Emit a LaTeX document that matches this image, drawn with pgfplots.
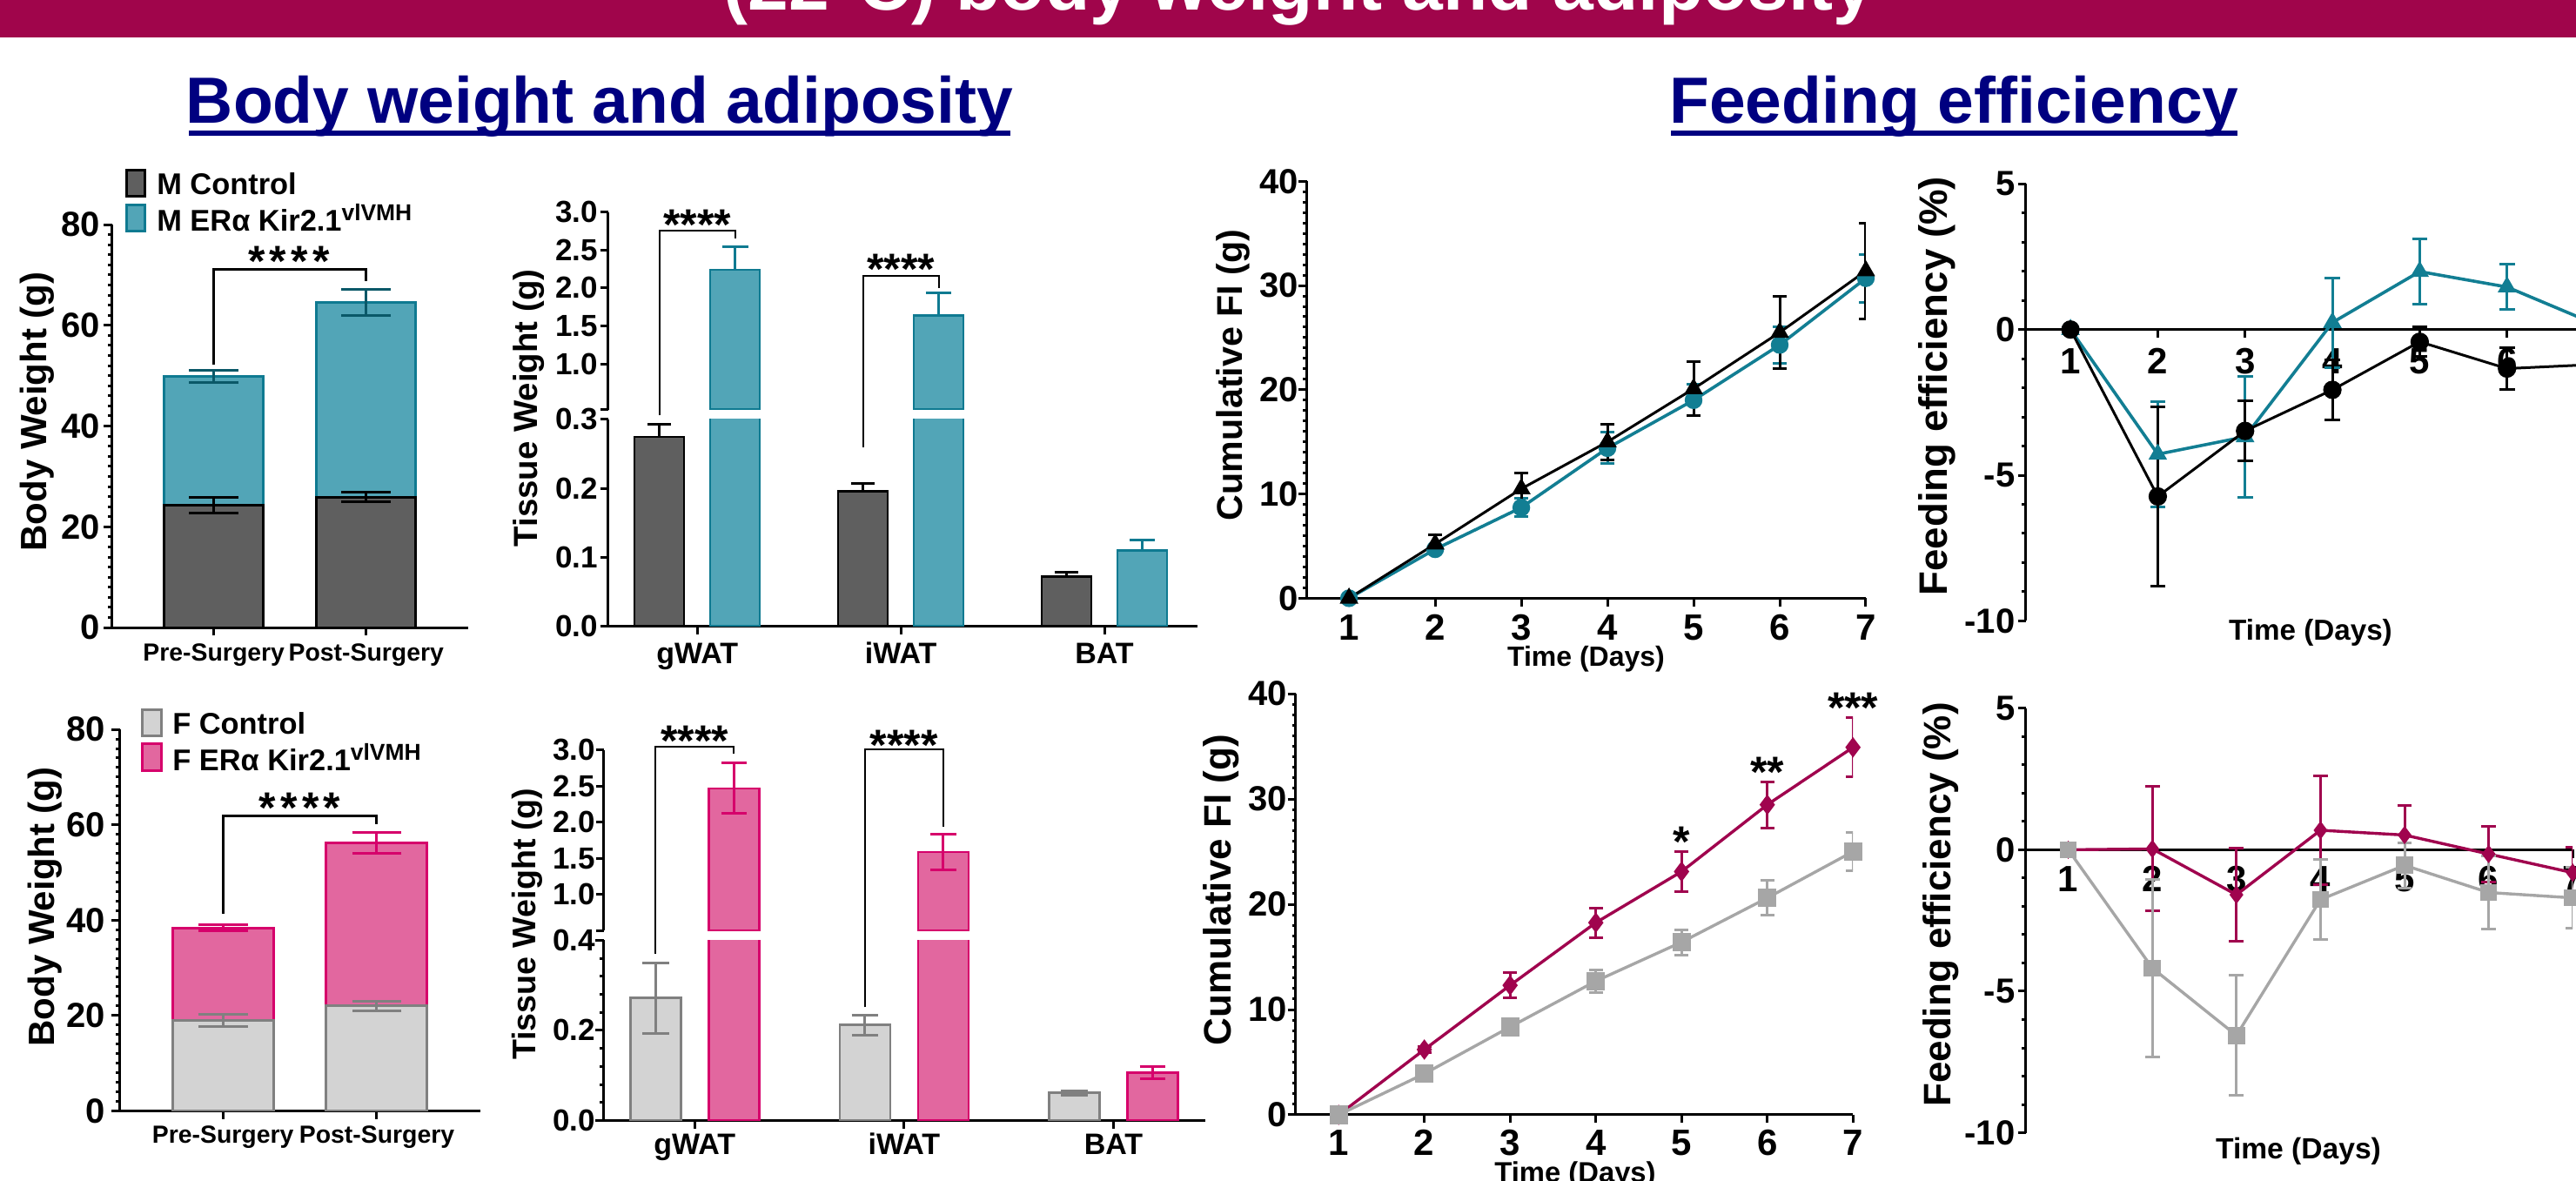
\documentclass[border=0pt]{standalone}
\usepackage{fontspec}
\setmainfont{Liberation Sans}
\usepackage{pgfplots}
\pgfplotsset{compat=1.18}
\newcommand\fs[1]{\fontsize{#1}{#1}\selectfont\bfseries}
\newcommand\sups[1]{\raisebox{3pt}{\fontsize{6.6}{6.6}\selectfont #1}}
\definecolor{banner}{RGB}{160,5,75}
\definecolor{navy}{RGB}{0,0,128}
\definecolor{ctrlM}{RGB}{95,95,95}
\definecolor{kirM}{RGB}{82,165,183}
\definecolor{kirMedge}{RGB}{15,122,145}
\definecolor{kirMerr}{RGB}{10,88,104}
\definecolor{tealL}{RGB}{18,126,147}
\definecolor{ctrlF}{RGB}{211,211,211}
\definecolor{ctrlFedge}{RGB}{128,128,128}
\definecolor{kirF}{RGB}{226,103,159}
\definecolor{kirFedge}{RGB}{214,0,107}
\definecolor{crim}{RGB}{160,4,78}
\definecolor{grayL}{RGB}{166,166,166}
\pgfplotsset{
  base/.style={
    scale only axis, anchor=south west,
    axis x line*=bottom, axis y line*=left,
    axis line style={-, line width=0.75pt, black},
    tick style={black, line width=0.75pt},
    tick align=outside,
    major tick length=2.3pt, minor tick length=1.1pt,
    /pgf/number format/assume math mode=true,
    yticklabel style={anchor=east, inner sep=0pt},
    xticklabel style={anchor=base, inner sep=0pt},
    hide obscured x ticks=false, hide obscured y ticks=false,
  },
  ebar/.style n args={3}{error bars/.cd, y dir=#1, y explicit,
    error bar style={#2, line width=0.75pt},
    error mark options={rotate=90, mark size=#3, #2, line width=0.75pt}},
}
\begin{document}
\begin{tikzpicture}
\useasboundingbox (0,0) rectangle (740pt,-339.25pt);
\clip (0,0) rectangle (740pt,-339.25pt);
\begin{scope}[x=0.25pt,y=-0.25pt]
  \fill[banner] (0,-20) rectangle (2960,42.7);
  \node[white, font=\fs{21}, anchor=base, inner sep=0pt] at (1492.5,12) {(22°C) body weight and adiposity};
  \node[navy, font=\fs{18.75}, anchor=base, inner sep=0pt] at (689,142) {Body weight and adiposity};
  \fill[navy] (217,150) rectangle (1161,156);
  \node[navy, font=\fs{18.75}, anchor=base, inner sep=0pt] at (2245.5,142) {Feeding efficiency};
  \fill[navy] (1920,150) rectangle (2571,156);
  % legends
  \filldraw[fill=ctrlM, draw=black, line width=0.75pt] (145.7,196) rectangle (166.8,225.5);
  \filldraw[fill=kirM, draw=kirMedge, line width=0.75pt] (145.7,235.8) rectangle (166.8,265.7);
  \node[anchor=base west, inner sep=0pt, font=\fs{8.6}] at (179.5,223.6) {M Control};
  \node[anchor=base west, inner sep=0pt, font=\fs{8.6}] at (179.5,265.7) {M ERα Kir2.1\sups{vlVMH}};
  \filldraw[fill=ctrlF, draw=ctrlFedge, line width=0.75pt] (163.6,815.3) rectangle (185,846);
  \filldraw[fill=kirF, draw=kirFedge, line width=0.75pt] (163.6,855) rectangle (185,885.8);
  \node[anchor=base west, inner sep=0pt, font=\fs{8.6}] at (197.5,843.5) {F Control};
  \node[anchor=base west, inner sep=0pt, font=\fs{8.6}] at (197.5,885.8) {F ERα Kir2.1\sups{vlVMH}};
  % anchors
  \coordinate (pA) at (128.6,721.1);
  \coordinate (pB) at (137.5,1276.4);
  \coordinate (pCl) at (698.8,719.7);
  \coordinate (pCu) at (698.8,470.6);
  \coordinate (pDl) at (693.7,1287.5);
  \coordinate (pDu) at (693.7,1069.4);
  \coordinate (pE) at (1501.6,687.4);
  \coordinate (pF) at (2327.7,713.4);
  \coordinate (pG) at (1488.9,1281);
  \coordinate (pH) at (2327.7,1301.6);
\end{scope}

% ---------- A: male body weight
\begin{axis}[base, at={(pA)}, width=102.23pt, height=115.78pt,
  xmin=-0.669, xmax=1.667, ymin=0, ymax=80,
  xtick={0,1}, xticklabels={Pre-Surgery,Post-Surgery},
  ytick={0,20,40,60,80}, yticklabels={0,20,40,60,80}, minor y tick num=9,
  xticklabel style={font=\fs{7.1}, yshift=-7.2pt},
  yticklabel style={font=\fs{10}, xshift=-0.85pt},
  ylabel={Body Weight (g)},
  ylabel style={at={(axis description cs:-0.2096,0.5357)}, anchor=center, font=\fs{10.5}}]
\addplot[ybar, bar width=28.5pt, bar shift=0pt, mark=none, fill=kirM, draw=kirMedge, line width=0.75pt,
  ebar={both}{kirMerr}{7.1pt}] coordinates {(0,49.9) +- (0,1.2) (1,64.6) +- (0,2.6)};
\addplot[ybar, bar width=28.5pt, bar shift=0pt, mark=none, fill=ctrlM, draw=black, line width=0.75pt,
  ebar={both}{black}{7.1pt}] coordinates {(0,24.3) +- (0,1.6) (1,25.9) +- (0,0.9)};
\coordinate (a1) at (axis cs:0,52.2);
\coordinate (a2) at (axis cs:1,71.1);
\coordinate (a3) at (axis cs:1,68.8);
\coordinate (sA) at (axis cs:0.493,74.7);
\end{axis}
\draw[line width=0.75pt] (a1) |- (a2) -- (a3);
\node[font=\fs{12.5}, anchor=base, inner sep=0pt, yshift=-7.25pt] at (sA) {*\kern1.3pt*\kern1.3pt*\kern1.3pt*};

% ---------- B: female body weight
\begin{axis}[base, at={(pB)}, width=103.58pt, height=109.58pt,
  xmin=-0.671, xmax=1.672, ymin=0, ymax=80,
  xtick={0,1}, xticklabels={Pre-Surgery,Post-Surgery},
  ytick={0,20,40,60,80}, yticklabels={0,20,40,60,80}, minor y tick num=9,
  xticklabel style={font=\fs{7.1}, yshift=-7.1pt},
  yticklabel style={font=\fs{10}, xshift=-1.7pt},
  ylabel={Body Weight (g)},
  ylabel style={at={(axis description cs:-0.2071,0.5348)}, anchor=center, font=\fs{10.5}}]
\addplot[ybar, bar width=29pt, bar shift=0pt, mark=none, fill=kirF, draw=kirFedge, line width=0.75pt,
  ebar={both}{kirFedge}{7.1pt}] coordinates {(0,38.4) +- (0,0.7) (1,56.2) +- (0,2.15)};
\addplot[ybar, bar width=29pt, bar shift=0pt, mark=none, fill=ctrlF, draw=ctrlFedge, line width=0.75pt,
  ebar={both}{ctrlFedge}{7.1pt}] coordinates {(0,18.9) +- (0,1.3) (1,22.0) +- (0,1.0)};
\coordinate (b1) at (axis cs:0,41.3);
\coordinate (b2) at (axis cs:1,61.9);
\coordinate (b3) at (axis cs:1,60.1);
\coordinate (sB) at (axis cs:0.5,65.7);
\end{axis}
\draw[line width=0.75pt] (b1) |- (b2) -- (b3);
\node[font=\fs{12.5}, anchor=base, inner sep=0pt, yshift=-7.25pt] at (sB) {*\kern1.3pt*\kern1.3pt*\kern1.3pt*};

% ---------- C: male tissue (broken axis)
\begin{axis}[base, at={(pCl)}, width=169.3pt, height=59.45pt,
  xmin=-0.438, xmax=2.457, ymin=0, ymax=0.3,
  xtick={0,1,2}, xticklabels={gWAT,iWAT,BAT},
  ytick={0,0.1,0.2,0.3}, yticklabels={0.0,0.1,0.2,0.3},
  xticklabel style={font=\fs{8.5}, yshift=-8.3pt},
  yticklabel style={font=\fs{8.75}, xshift=-0.5pt},
  ylabel={Tissue Weight (g)},
  ylabel style={at={(axis description cs:-0.1341,1.0542)}, anchor=center, font=\fs{9.6}}]
\addplot[ybar, bar width=14.25pt, bar shift=0pt, mark=none, fill=ctrlM, draw=black, line width=0.6pt,
  ebar={plus}{black}{3.4pt}] coordinates {(-0.186,0.275) +- (0,0.018) (0.814,0.196) +- (0,0.011) (1.814,0.072) +- (0,0.006)};
\addplot[ybar, bar width=14.25pt, bar shift=0pt, mark=none, fill=kirM, draw=kirMedge, line width=0.6pt]
  coordinates {(0.186,2.24) (1.186,1.64)};
\addplot[ybar, bar width=14.25pt, bar shift=0pt, mark=none, fill=kirM, draw=kirMedge, line width=0.6pt,
  ebar={plus}{kirMedge}{3.7pt}] coordinates {(2.186,0.110) +- (0,0.015)};
\coordinate (c1) at (axis cs:-0.186,0.3057);
\coordinate (c4) at (axis cs:0.814,0.259);
\end{axis}
\begin{axis}[base, at={(pCu)}, width=169.3pt, height=56.75pt,
  axis x line=none, xtick=\empty,
  xmin=-0.438, xmax=2.457, ymin=0.4, ymax=3.0,
  ytick={1,1.5,2,2.5,3}, yticklabels={1.0,1.5,2.0,2.5,3.0},
  extra y ticks={0.4}, extra y tick labels={},
  yticklabel style={font=\fs{8.75}, xshift=-0.5pt}]
\addplot[ybar, bar width=14.25pt, bar shift=0pt, mark=none, fill=kirM, draw=kirMedge, line width=0.6pt,
  ebar={plus}{kirMedge}{3.7pt}] coordinates {(0.186,2.24) +- (0,0.30) (1.186,1.64) +- (0,0.30)};
\coordinate (c2) at (axis cs:0.186,2.758);
\coordinate (c3) at (axis cs:0.186,2.652);
\coordinate (c5) at (axis cs:1.186,2.156);
\coordinate (c6) at (axis cs:1.186,2.0);
\coordinate (sC1) at (axis cs:0,2.97);
\coordinate (sC2) at (axis cs:1,2.377);
\end{axis}
\draw[line width=0.45pt] (c1) |- (c2) -- (c3);
\draw[line width=0.45pt] (c4) |- (c5) -- (c6);
\node[font=\fs{12.5}, anchor=base, inner sep=0pt, yshift=-7.25pt] at (sC1) {****};
\node[font=\fs{12.5}, anchor=base, inner sep=0pt, yshift=-7.25pt] at (sC2) {****};

% ---------- D: female tissue (broken axis)
\begin{axis}[base, at={(pDl)}, width=172.83pt, height=51.8pt,
  xmin=-0.435, xmax=2.439, ymin=0, ymax=0.4,
  xtick={0,1,2}, xticklabels={gWAT,iWAT,BAT},
  ytick={0,0.2,0.4}, yticklabels={0.0,0.2,0.4}, minor y tick num=4,
  xticklabel style={font=\fs{8.5}, yshift=-7.5pt},
  yticklabel style={font=\fs{8.75}, xshift=0pt},
  ylabel={Tissue Weight (g)},
  ylabel style={at={(axis description cs:-0.1269,1.0883)}, anchor=center, font=\fs{9.4}}]
\addplot[ybar, bar width=14.5pt, bar shift=0pt, mark=none, fill=ctrlF, draw=ctrlFedge, line width=0.6pt,
  ebar={both}{ctrlFedge}{3.8pt}] coordinates {(-0.187,0.272) +- (0,0.078) (0.813,0.212) +- (0,0.022) (1.813,0.0615) +- (0,0.005)};
\addplot[ybar, bar width=14.5pt, bar shift=0pt, mark=none, fill=kirF, draw=kirFedge, line width=0.6pt]
  coordinates {(0.187,2.47) (1.187,1.59)};
\addplot[ybar, bar width=14.5pt, bar shift=0pt, mark=none, fill=kirF, draw=kirFedge, line width=0.6pt,
  ebar={both}{kirFedge}{3.7pt}] coordinates {(2.187,0.106) +- (0,0.013)};
\coordinate (d1) at (axis cs:-0.187,0.370);
\coordinate (d4) at (axis cs:0.813,0.251);
\end{axis}
\begin{axis}[base, at={(pDu)}, width=172.83pt, height=51.9pt,
  axis x line=none, xtick=\empty,
  xmin=-0.435, xmax=2.439, ymin=0.5, ymax=3.0,
  ytick={1,1.5,2,2.5,3}, yticklabels={1.0,1.5,2.0,2.5,3.0},
  extra y ticks={0.5}, extra y tick labels={},
  yticklabel style={font=\fs{8.75}, xshift=0pt}]
\addplot[ybar, bar width=14.5pt, bar shift=0pt, mark=none, fill=kirF, draw=kirFedge, line width=0.6pt,
  ebar={both}{kirFedge}{3.7pt}] coordinates {(0.187,2.47) +- (0,0.35) (1.187,1.59) +- (0,0.25)};
\coordinate (d2) at (axis cs:0.187,3.049);
\coordinate (d3) at (axis cs:0.187,2.947);
\coordinate (d5) at (axis cs:1.187,3.008);
\coordinate (d6) at (axis cs:1.187,1.937);
\coordinate (sD1) at (axis cs:0,3.264);
\coordinate (sD2) at (axis cs:1,3.214);
\end{axis}
\draw[line width=0.45pt] (d1) |- (d2) -- (d3);
\draw[line width=0.45pt] (d4) |- (d5) -- (d6);
\node[font=\fs{12.5}, anchor=base, inner sep=0pt, yshift=-7.25pt] at (sD1) {****};
\node[font=\fs{12.5}, anchor=base, inner sep=0pt, yshift=-7.25pt] at (sD2) {****};

% ---------- E: male cumulative FI
\begin{axis}[base, at={(pE)}, width=160.6pt, height=119.78pt,
  xmin=0.51, xmax=7, ymin=0, ymax=40,
  xtick={1,...,7}, xticklabels={1,2,3,4,5,6,7},
  ytick={0,10,20,30,40}, yticklabels={0,10,20,30,40}, minor y tick num=9,
  xticklabel style={font=\fs{10.5}, yshift=-9.85pt},
  yticklabel style={font=\fs{10}, xshift=0pt},
  ylabel={Cumulative FI (g)},
  ylabel style={at={(axis description cs:-0.1317,0.5352)}, anchor=center, font=\fs{10.3}},
  xlabel={Time (Days)},
  xlabel style={at={(axis description cs:0.4995,-0.162)}, anchor=base, font=\fs{8}}]
\addplot[color=tealL, line width=0.9pt, mark=*, mark size=2.4pt, mark options={fill=tealL, draw=tealL, line width=0.3pt},
  ebar={both}{tealL}{1.9pt}] coordinates {(1,0) +- (0,0) (2,4.7) +- (0,0.3) (3,8.7) +- (0,0.9) (4,14.4) +- (0,1.5) (5,19.0) +- (0,1.5) (6,24.3) +- (0,1.75) (7,30.7) +- (0,2.3)};
\addplot[color=black, line width=0.75pt, mark=triangle*, mark size=2.8pt, mark options={fill=black, draw=black, line width=0.3pt},
  ebar={both}{black}{1.9pt}] coordinates {(1,0) +- (0,0) (2,5.2) +- (0,0.9) (3,10.5) +- (0,1.5) (4,15.0) +- (0,1.7) (5,20.1) +- (0,2.6) (6,25.5) +- (0,3.5) (7,31.4) +- (0,4.6)};
\end{axis}

% ---------- F: male feeding efficiency
\begin{axis}[base, at={(pF)}, width=163.33pt, height=125.53pt, axis x line*=middle,
  xmin=0.4875, xmax=7, ymin=-10, ymax=5,
  xtick={1,...,7}, xticklabels={1,2,3,4,5,6,7},
  ytick={-10,-5,0,5}, yticklabels={-10,-5,0,5}, minor y tick num=4,
  xticklabel style={font=\fs{10.5}, yshift=-10.5pt},
  yticklabel style={font=\fs{10}, xshift=-0.6pt},
  ylabel={Feeding efficiency (\%)},
  ylabel style={at={(axis description cs:-0.1557,0.5373)}, anchor=center, font=\fs{11.4}},
  xlabel={Time (Days)},
  xlabel style={at={(axis description cs:0.501,-0.0442)}, anchor=base, font=\fs{8.3}}]
\addplot[color=tealL, line width=0.9pt, mark=triangle*, mark size=2.8pt, mark options={fill=tealL, draw=tealL, line width=0.3pt},
  ebar={both}{tealL}{2.2pt}] coordinates {(1,0) +- (0,0) (2,-4.28) +- (0,1.8) (3,-3.68) +- (0,2.07) (4,0.24) +- (0,1.54) (5,1.99) +- (0,1.13) (6,1.46) +- (0,0.78) (7,0.2) +- (0,0.5)};
\addplot[color=black, line width=0.75pt, mark=*, mark size=2.5pt, mark options={fill=black, draw=black, line width=0.3pt},
  ebar={both}{black}{2.2pt}] coordinates {(1,0) +- (0,0) (2,-5.73) +- (0,3.07) (3,-3.48) +- (0,1.04) (4,-2.07) +- (0,1.04) (5,-0.42) +- (0,0.5) (6,-1.34) +- (0,0.72) (7,-1.2) +- (0,0.6)};
\end{axis}

% ---------- G: female cumulative FI
\begin{axis}[base, at={(pG)}, width=160.08pt, height=121pt,
  xmin=0.5, xmax=7, ymin=0, ymax=40,
  xtick={1,...,7}, xticklabels={1,2,3,4,5,6,7},
  ytick={0,10,20,30,40}, yticklabels={0,10,20,30,40}, minor y tick num=9,
  xticklabel style={font=\fs{10.5}, yshift=-9.45pt},
  yticklabel style={font=\fs{10}, xshift=0pt},
  ylabel={Cumulative FI (g)},
  ylabel style={at={(axis description cs:-0.1342,0.5337)}, anchor=center, font=\fs{11}},
  xlabel={Time (Days)},
  xlabel style={at={(axis description cs:0.5015,-0.160)}, anchor=base, font=\fs{8.2}}]
\addplot[color=crim, line width=0.85pt, mark=diamond*, mark size=2.7pt, mark options={fill=crim, draw=crim, line width=0.3pt},
  ebar={both}{crim}{2pt}] coordinates {(1,0) +- (0,0) (2,6.2) +- (0,0.3) (3,12.3) +- (0,1.2) (4,18.25) +- (0,1.4) (5,23.1) +- (0,1.9) (6,29.45) +- (0,2.2) (7,34.9) +- (0,2.8)};
\addplot[color=grayL, line width=0.85pt, mark=square*, mark size=2.5pt, mark options={fill=grayL, draw=grayL, line width=0.3pt},
  ebar={both}{grayL}{2pt}] coordinates {(1,0) +- (0,0) (2,3.9) +- (0,0.3) (3,8.35) +- (0,0.4) (4,12.7) +- (0,1.1) (5,16.4) +- (0,1.2) (6,20.6) +- (0,1.65) (7,25.0) +- (0,1.8)};
\coordinate (sG5) at (axis cs:5,26.9);
\coordinate (sG6) at (axis cs:6,33.5);
\coordinate (sG7) at (axis cs:7,39.6);
\end{axis}
\node[font=\fs{12.5}, anchor=base, inner sep=0pt, yshift=-7.25pt] at (sG5) {*};
\node[font=\fs{12.5}, anchor=base, inner sep=0pt, yshift=-7.25pt] at (sG6) {**};
\node[font=\fs{12.5}, anchor=base, inner sep=0pt, yshift=-7.25pt] at (sG7) {***};

% ---------- H: female feeding efficiency
\begin{axis}[base, at={(pH)}, width=157.13pt, height=121.95pt, axis x line*=middle,
  xmin=0.494, xmax=7, ymin=-10, ymax=5,
  xtick={1,...,7}, xticklabels={1,2,3,4,5,6,7},
  ytick={-10,-5,0,5}, yticklabels={-10,-5,0,5}, minor y tick num=4,
  xticklabel style={font=\fs{10.5}, yshift=-9.7pt},
  yticklabel style={font=\fs{10}, xshift=-0.6pt},
  ylabel={Feeding efficiency (\%)},
  ylabel style={at={(axis description cs:-0.1554,0.5373)}, anchor=center, font=\fs{11}},
  xlabel={Time (Days)},
  xlabel style={at={(axis description cs:0.4985,-0.0613)}, anchor=base, font=\fs{8.4}}]
\addplot[color=crim, line width=0.85pt, mark=diamond*, mark size=2.4pt, mark options={fill=crim, draw=crim, line width=0.3pt},
  ebar={both}{crim}{2.1pt}] coordinates {(1,0) +- (0,0) (2,0.03) +- (0,2.2) (3,-1.59) +- (0,1.65) (4,0.69) +- (0,1.92) (5,0.52) +- (0,1.06) (6,-0.15) +- (0,0.98) (7,-0.81) +- (0,0.89)};
\addplot[color=grayL, line width=0.85pt, mark=square*, mark size=2.3pt, mark options={fill=grayL, draw=grayL, line width=0.3pt},
  ebar={both}{grayL}{2.1pt}] coordinates {(1,0) +- (0,0) (2,-4.18) +- (0,3.13) (3,-6.56) +- (0,2.12) (4,-1.76) +- (0,1.41) (5,-0.55) +- (0,0.8) (6,-1.51) +- (0,1.28) (7,-1.70) +- (0,1.08)};
\end{axis}
\end{tikzpicture}
\end{document}
